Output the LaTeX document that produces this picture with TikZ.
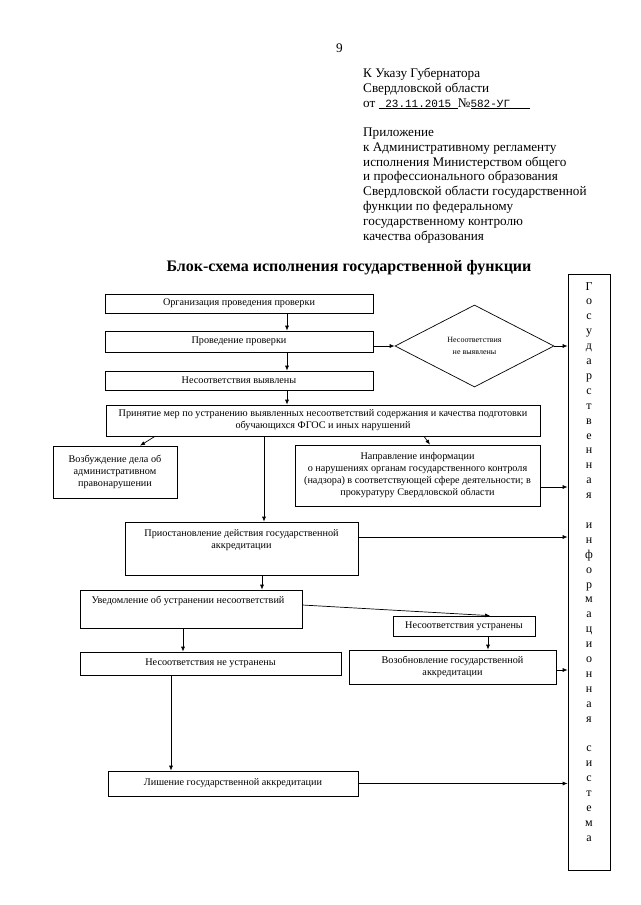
\documentclass[tikz,border=0pt]{standalone}
\usepackage{fontspec}
\setmainfont{Liberation Serif}
\newfontfamily\monof{Liberation Mono}
\usetikzlibrary{arrows.meta,shapes.geometric}
\newcommand\hdfont{\fontsize{13.2}{14.9}\selectfont}
\newcommand\bxfont{\fontsize{10.2}{12}\selectfont}
\newcommand\dgfont{\fontsize{8}{12}\selectfont}
\newcommand\gsfont{\fontsize{12}{14.9}\selectfont}
\newcommand\mnfont{\monof\fontsize{11}{12}\selectfont}
\begin{document}
\begin{tikzpicture}[x=1pt,y=-1pt,
  box/.style={draw, line width=0.7pt, inner sep=0pt, align=center, font=\bxfont},
  txt/.style={inner sep=0pt, align=center, font=\bxfont},
  hd/.style={inner sep=0pt, anchor=base west, font=\hdfont},
  arr/.style={-{Latex[length=5pt,width=4pt]}, line width=0.7pt}]
\fill[white] (0,0) rectangle (640,905);
\useasboundingbox (0,0) rectangle (640,905);

% header
\node[hd] (h0) at (336,52) {9};
\node[hd] (h1) at (363,77) {К Указу Губернатора};
\node[hd] (h2) at (363,92) {Свердловской области};
\node[hd] (h3) at (363,107) {от \underline{\mnfont\ 23.11.2015\ }№\underline{\mnfont 582-УГ\ \ \ }};
\node[hd] (p1) at (363,136) {Приложение};
\node[hd] (p2) at (363,151) {к Административному регламенту};
\node[hd] (p3) at (363,166) {исполнения Министерством общего};
\node[hd] (p4) at (363,180.5) {и профессионального образования};
\node[hd] (p5) at (363,195) {Свердловской области государственной};
\node[hd] (p6) at (363,210) {функции по федеральному};
\node[hd] (p7) at (363,225) {государственному контролю};
\node[hd] (p8) at (363,240) {качества образования};

\node[inner sep=0pt, font=\fontsize{16}{18}\selectfont\bfseries] (title) at (349,268) {Блок-схема исполнения государственной функции};

% boxes
\node[box, minimum width=268pt, minimum height=19pt] (b1) at (239,303.5) {Организация проведения проверки};
\node[box, minimum width=268pt, minimum height=21pt] (b2) at (239,341.5) {Проведение проверки};
\node[box, minimum width=268pt, minimum height=19pt] (b3) at (239,380.5) {Несоответствия выявлены};
\node[box, minimum width=434pt, minimum height=31pt] (b4) at (323,420.5) {Принятие мер по устранению выявленных несоответствий содержания и качества подготовки\\обучающихся ФГОС и иных нарушений};
\node[box, minimum width=124pt, minimum height=52pt] (voz) at (115,472) {Возбуждение дела об\\административном\\правонарушении};
\node[box, minimum width=245pt, minimum height=61pt] (napr) at (417.5,475.5) {Направление информации\\о нарушениях органам государственного контроля\\(надзора) в соответствующей сфере деятельности; в\\прокуратуру Свердловской области};
\node[box, minimum width=233pt, minimum height=53pt] (priost) at (241.5,548.5) {};
\node[txt] (priostt) at (241.5,540) {Приостановление действия государственной\\аккредитации};
\node[box, minimum width=222pt, minimum height=38pt] (uved) at (191,609) {};
\node[txt] (uvedt) at (188,601) {Уведомление об устранении несоответствий};
\node[box, minimum width=142pt, minimum height=20pt] (ustr) at (464,626) {Несоответствия устранены};
\node[box, minimum width=207pt, minimum height=34pt] (vozob) at (452.5,667) {Возобновление государственной\\аккредитации};
\node[box, minimum width=261pt, minimum height=23pt] (neustr) at (210.5,663.5) {Несоответствия не устранены};
\node[box, minimum width=250pt, minimum height=25pt] (lish) at (233,783.5) {Лишение государственной аккредитации};
\node[draw, line width=0.7pt, diamond, inner sep=0pt, minimum width=159pt, minimum height=82pt, align=center, font=\dgfont] (dia) at (474.5,346) {Несоответствия\\не выявлены};

% information system column
\node[draw, line width=0.7pt, inner sep=0pt, minimum width=42pt, minimum height=596pt] (gis) at (589,572) {};
\node[inner sep=0pt, anchor=north, align=center, font=\gsfont] (gist) at (589,282) {Г\\о\\с\\у\\д\\а\\р\\с\\т\\в\\е\\н\\н\\а\\я\\~\\и\\н\\ф\\о\\р\\м\\а\\ц\\и\\о\\н\\н\\а\\я\\~\\с\\и\\с\\т\\е\\м\\а};

% connectors
\draw[arr] (b1.south -| 287,0) -- (b2.north -| 287,0);
\draw[arr] (b2.south -| 287,0) -- (b3.north -| 287,0);
\draw[arr] (b3.south -| 287,0) -- (b4.north -| 287,0);
\draw[arr] (dia.west -| b2.east) -- (dia.west);
\draw[arr] (dia.east) -- (dia.east -| gis.west);
\draw[arr] (b4.south -| 155,0) -- (voz.north -| 140,0);
\draw[arr] (b4.south -| 424,0) -- (napr.north -| 430,0);
\draw[arr] (b4.south -| 264,0) -- (priost.north -| 264,0);
\draw[arr] (napr.east |- 0,487) -- (gis.west |- 0,487);
\draw[arr] (priost.east |- 0,537) -- (gis.west |- 0,537);
\draw[arr] (priost.south -| 262,0) -- (uved.north -| 262,0);
\draw[arr] (uved.east |- 0,605) -- (ustr.north -| 490,0);
\draw[arr] (ustr.south -| 488,0) -- (vozob.north -| 488,0);
\draw[arr] (vozob.east |- 0,670) -- (gis.west |- 0,670);
\draw[arr] (uved.south -| 183,0) -- (neustr.north -| 183,0);
\draw[arr] (neustr.south -| 171,0) -- (lish.north -| 171,0);
\draw[arr] (lish.east) -- (lish.east -| gis.west);
\end{tikzpicture}
\end{document}
